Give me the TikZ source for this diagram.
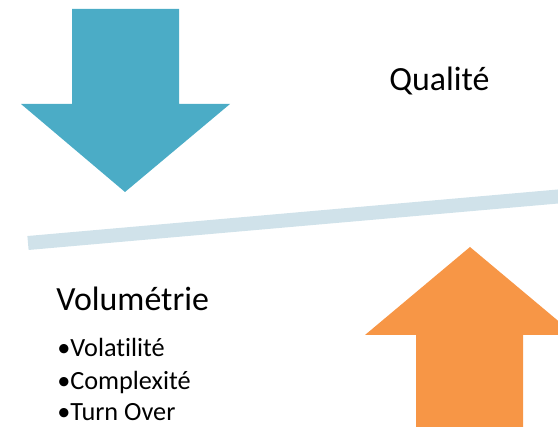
\documentclass[tikz,border=0pt]{standalone}
\usepackage{fontspec}
\setmainfont{Carlito}[Ligatures=NoCommon]
\definecolor{arrowblue}{RGB}{75,172,198}
\definecolor{arroworange}{RGB}{247,150,70}
\definecolor{beamblue}{RGB}{208,226,234}
\begin{document}
\begin{tikzpicture}[x=0.75pt,y=-0.75pt,line join=miter,
    beam/.style={draw=beamblue,line width=10.5pt,line cap=butt},
    heading/.style={anchor=base west,inner sep=0pt,font=\fontsize{25.4}{30}\selectfont},
    item/.style={anchor=base west,inner sep=0pt,font=\fontsize{19.7}{22}\selectfont}]
            \useasboundingbox (0,0) rectangle (558,427);
            \clip (0,0) rectangle (558,427);
            % arrows
            \fill[arrowblue] (72,9) -- (179,9) -- (179,104) -- (230,104)
            -- (125,192) -- (21,104) -- (72,104) -- cycle;
            \fill[arroworange] (416,440) -- (416,335) -- (365,335) -- (470,247)
            -- (575,335) -- (523,335) -- (523,440) -- cycle;
            % balance beam
            \coordinate (beamL) at (28,243);
            \coordinate (beamR) at (566,195.8);
            \draw[beam] (beamL) -- (beamR);
            % texts
            \node[heading] (quality) at (389,91) {Qualité};
            \node[heading] (volume) at (56,311) {Volumétrie};
            \node[item] (vol) at (57,357) {•Volatilité};
            \node[item] (cpx) at (57,390) {•Complexité};
            \node[item] (turn) at (57,421) {•Turn Over};
        \end{tikzpicture}
\end{document}
